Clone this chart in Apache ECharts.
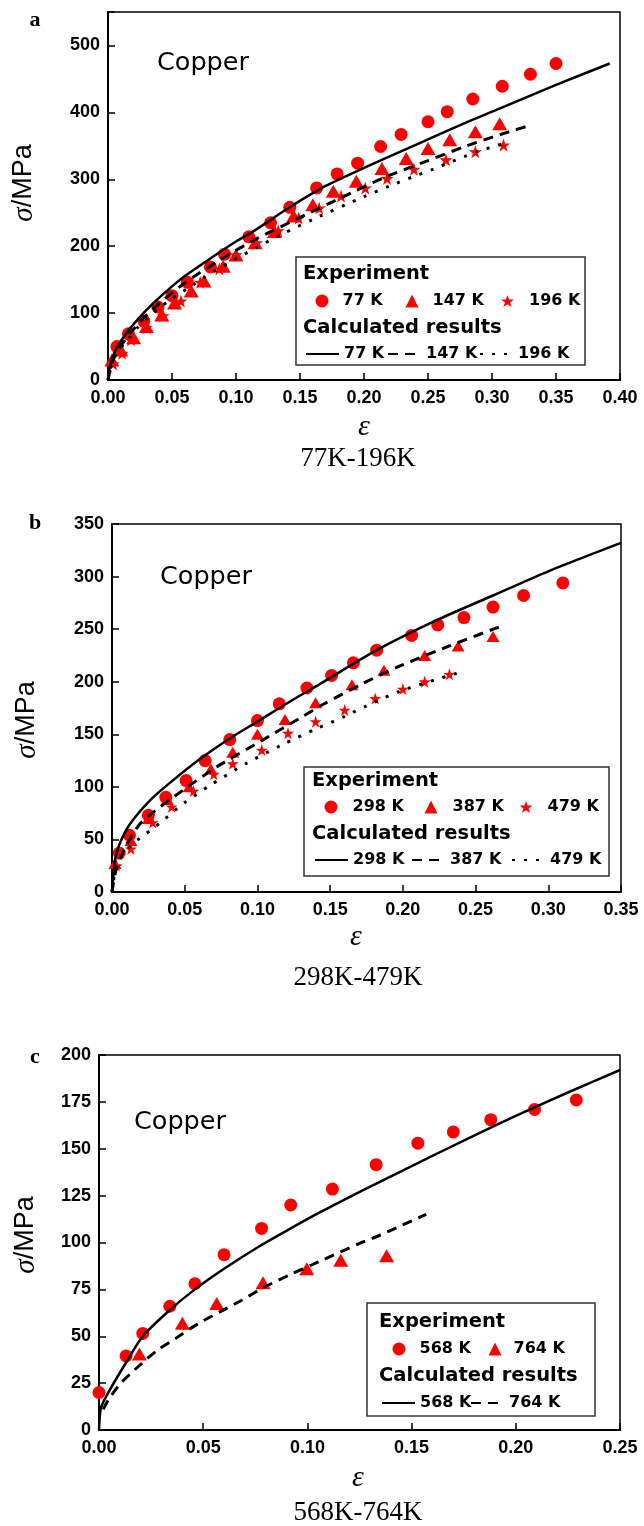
<!DOCTYPE html>
<html><head><meta charset="utf-8">
<script src="https://cdn.jsdelivr.net/npm/echarts@6/dist/echarts.min.js"></script>
<style>html,body{margin:0;padding:0;background:#fff}#c{width:644px;height:1526px}</style>
</head><body><div id="c"></div><script>
// ---------- Panel a (77K-196K) ----------
const a_exp77 = [[0.007,50],[0.016,69],[0.028,88],[0.039,109],[0.05,126],[0.062,146],[0.08,169],[0.091,188],[0.11,214],[0.127,235],[0.142,258],[0.163,287],[0.179,308],[0.195,324],[0.213,349],[0.229,367],[0.25,386],[0.265,401],[0.285,420],[0.308,439],[0.33,457],[0.35,473]];
const a_exp147 = [[0.003,30],[0.01,45],[0.02,63],[0.03,80],[0.042,97],[0.052,115],[0.065,133],[0.075,148],[0.09,170],[0.1,187],[0.115,205],[0.13,222],[0.145,245],[0.16,262],[0.176,282],[0.194,297],[0.214,316],[0.233,331],[0.25,346],[0.267,359],[0.287,371],[0.306,383]];
const a_exp196 = [[0.004,24],[0.011,40],[0.018,60],[0.03,78],[0.043,96],[0.057,118],[0.072,146],[0.087,166],[0.1,187],[0.116,205],[0.133,223],[0.149,242],[0.165,257],[0.182,275],[0.201,287],[0.218,301],[0.239,315],[0.264,329],[0.287,341],[0.309,351]];
const a_calc77 = [[0,0],[0.002,25],[0.006,45],[0.014,69],[0.024,92],[0.035,114],[0.05,140],[0.062,158],[0.088,192],[0.1,207],[0.115,224],[0.141,257],[0.17,290],[0.2,317],[0.24,351],[0.28,385],[0.31,409],[0.35,441],[0.392,473]];
const a_calc147 = [[0,0],[0.004,30],[0.0085,47],[0.02,76],[0.035,106],[0.06,145],[0.088,180],[0.115,210],[0.15,243],[0.184,274],[0.215,302],[0.25,328],[0.279,349],[0.31,369],[0.329,380]];
const a_calc196 = [[0,0],[0.003,25],[0.0085,45],[0.016,62],[0.023,78],[0.031,93],[0.039,106],[0.048,119],[0.0655,141],[0.075,153],[0.096,177],[0.117,199],[0.136,218],[0.16,240],[0.2,274],[0.22,290],[0.24,305],[0.254,315],[0.288,341],[0.309,353]];
// ---------- Panel b (298K-479K) ----------
const b_exp298 = [[0.005,37],[0.012,54],[0.025,73],[0.037,90],[0.051,106],[0.064,125],[0.081,145],[0.1,163],[0.115,179],[0.134,194],[0.151,206],[0.166,218],[0.182,230],[0.206,244],[0.224,254],[0.242,261],[0.262,271],[0.283,282],[0.31,294]];
const b_exp387 = [[0.002,27],[0.013,49],[0.025,70],[0.038,88],[0.053,100],[0.068,117],[0.083,133],[0.1,150],[0.119,164],[0.14,180],[0.165,197],[0.187,211],[0.215,225],[0.238,234],[0.262,243]];
const b_exp479 = [[0.003,25],[0.013,41],[0.028,66],[0.041,81],[0.056,96],[0.07,112],[0.083,122],[0.103,135],[0.121,151],[0.14,162],[0.16,173],[0.181,184],[0.2,193],[0.215,200],[0.232,207]];
const b_calc298 = [[0,0],[0.002,30],[0.005,45],[0.012,64],[0.026,87],[0.04,104],[0.06,126],[0.082,147],[0.1,162],[0.121,180],[0.142,197],[0.182,230],[0.224,259],[0.262,282],[0.3,305],[0.35,332]];
const b_calc387 = [[0,0],[0.003,22],[0.01,45],[0.02,66],[0.042,90],[0.072,119],[0.103,144],[0.13,166],[0.146,179],[0.172,198],[0.198,215],[0.232,234],[0.266,252]];
const b_calc479 = [[0,0],[0.002,18],[0.007,36],[0.019,51],[0.027,59],[0.035,68],[0.049,84],[0.067,101],[0.092,122],[0.117,140],[0.14,155],[0.16,167],[0.175,177],[0.198,191],[0.237,208]];
// ---------- Panel c (568K-764K) ----------
const c_exp568 = [[0,20],[0.013,39.5],[0.021,51.5],[0.034,66],[0.046,78],[0.06,93.5],[0.078,107.5],[0.092,120],[0.112,128.5],[0.133,141.5],[0.153,153],[0.17,159],[0.188,165.5],[0.209,171],[0.229,176]];
const c_exp764 = [[0.0194,40.5],[0.04,57],[0.0565,67.5],[0.0787,78.5],[0.0997,86],[0.116,90.5],[0.138,93]];
const c_calc568 = [[0,0],[0.001,12],[0.005,21],[0.013,36],[0.021,50],[0.034,64],[0.046,75],[0.06,86],[0.077,98],[0.092,107.5],[0.105,115.5],[0.119,123.5],[0.135,132.5],[0.151,141.3],[0.167,150],[0.183,158.6],[0.2,167.5],[0.225,180],[0.25,192]];
const c_calc764 = [[0.002,11],[0.005,17],[0.0105,25],[0.019,34],[0.028,42.5],[0.037,49],[0.048,57],[0.058,63],[0.069,69.5],[0.079,76],[0.092,83],[0.102,88],[0.108,91],[0.124,99],[0.135,104],[0.145,109],[0.157,115]];
// ---------- tick labels / texts ----------
const yTicksA = [0,100,200,300,400,500];
const yTicksB = [0,50,100,150,200,250,300,350];
const yTicksC = [0,25,50,75,100,125,150,175,200];
const captions = ['77K-196K','298K-479K','568K-764K'];
const panelLetters = ['a','b','c'];

const RED = '#ff0000';
const STAR = 'path://M50,0 L61.8,35.1 L98.9,35.1 L69,56.9 L80.3,91.9 L50,70.2 L19.7,91.9 L31,56.9 L1.1,35.1 L38.2,35.1 Z';
const labelOf = {};

const grids = [
  {left:108, top:12, width:512, height:368},
  {left:112, top:524, width:509, height:368},
  {left:99, top:1055, width:521, height:375}
].map(g => Object.assign({show:true, borderColor:'#000', borderWidth:1.5, backgroundColor:'transparent'}, g));

function xAx(gi, max){
  return {gridIndex:gi, type:'value', min:0, max:max, interval:0.05,
    axisLine:{show:true, onZero:false, lineStyle:{color:'#000', width:2}},
    axisTick:{show:true, inside:true, length:7, lineStyle:{color:'#000', width:1.5}},
    splitLine:{show:false},
    axisLabel:{color:'#000', fontFamily:'Liberation Sans', fontWeight:'bold', fontSize:18, margin:9, formatter:v=>v.toFixed(2)}};
}
function yAx(gi, max, interval, ticks){
  return {gridIndex:gi, type:'value', min:0, max:max, interval:interval,
    axisLine:{show:true, onZero:false, lineStyle:{color:'#000', width:2}},
    axisTick:{show:true, inside:true, length:7, lineStyle:{color:'#000', width:1.5}},
    splitLine:{show:false},
    axisLabel:{color:'#000', fontFamily:'Liberation Sans', fontWeight:'bold', fontSize:18, margin:8,
      formatter:v=> ticks.indexOf(Math.round(v))>=0 && Math.abs(v-Math.round(v))<1e-6 ? String(Math.round(v)) : ''}};
}

const series = [];
function sc(name, label, gi, data, symbol, size){
  labelOf[name] = label;
  series.push({name, type:'scatter', xAxisIndex:gi, yAxisIndex:gi, data, symbol, symbolSize:size,
    itemStyle:{color:RED, opacity:1}, z:2, silent:true});
}
function ln(name, label, gi, data, type, width){
  labelOf[name] = label;
  series.push({name, type:'line', xAxisIndex:gi, yAxisIndex:gi, data, symbol:'none', showSymbol:false, smooth:0.25,
    lineStyle:{color:'#000', width:width, type:type, cap:'butt'}, itemStyle:{color:'#000'}, z:3, silent:true});
}
const DASH = [10,7], DOT = [3,9];
sc('ea77','77 K',0,a_exp77,'circle',13);
sc('ea147','147 K',0,a_exp147,'triangle',[15,13]);
sc('ea196','196 K',0,a_exp196,STAR,13);
ln('ca77','77 K',0,a_calc77,'solid',2.5);
ln('ca147','147 K',0,a_calc147,DASH,3);
ln('ca196','196 K',0,a_calc196,DOT,3);
sc('eb298','298 K',1,b_exp298,'circle',13);
sc('eb387','387 K',1,b_exp387,'triangle',[13,11]);
sc('eb479','479 K',1,b_exp479,STAR,12);
ln('cb298','298 K',1,b_calc298,'solid',2.5);
ln('cb387','387 K',1,b_calc387,DASH,3);
ln('cb479','479 K',1,b_calc479,DOT,3);
sc('ec568','568 K',2,c_exp568,'circle',13);
sc('ec764','764 K',2,c_exp764,'triangle',[15,13]);
ln('cc568','568 K',2,c_calc568,'solid',2.5);
ln('cc764','764 K',2,c_calc764,DASH,3);

const LTXT = {color:'#000', fontFamily:'DejaVu Sans', fontWeight:'bold', fontSize:16};
function lgMark(name, cx, cy, pad){
  return {data:[name], left:cx-6.5, top:cy-8, itemWidth:13, itemHeight:13, padding:0,
    selectedMode:false, formatter:n=>labelOf[n],
    textStyle:Object.assign({padding:[0,0,0,pad]}, LTXT), itemStyle:{opacity:1}};
}
function lgLine(name, lx, cy){
  return {data:[name], left:lx, top:cy-8, itemWidth:33, itemHeight:14, padding:0,
    selectedMode:false, formatter:n=>labelOf[n],
    textStyle:LTXT, itemStyle:{opacity:0}};
}
const legends = [
  lgMark('ea77',322,301,9), lgMark('ea147',412,301,9), lgMark('ea196',507.5,301,10),
  lgLine('ca77',305,354), lgLine('ca147',387,354), lgLine('ca196',479,354),
  lgMark('eb298',331,807,10), lgMark('eb387',431,807,10), lgMark('eb479',526,807,10),
  lgLine('cb298',314,860), lgLine('cb387',411,860), lgLine('cb479',511,860),
  lgMark('ec568',399,1349,9), lgMark('ec764',495,1349,7),
  lgLine('cc568',381,1403), lgLine('cc764',470,1403)
];

const HEAD = 'bold 19.5px "DejaVu Sans"';
function txt(x, y, text, font, align, extra){
  return Object.assign({type:'text', x, y, silent:true, z:10,
    style:{text, font, fill:'#000', align:align||'left', verticalAlign:'middle'}}, extra||{});
}
function yname(x, y){
  return {type:'text', x, y, rotation:Math.PI/2, silent:true, z:10,
    style:{text:'{s|σ}/MPa', font:'27px "Liberation Sans"', fill:'#000', align:'center', verticalAlign:'middle',
      rich:{s:{fontFamily:'Liberation Serif', fontStyle:'italic', fontSize:29, fill:'#000'}}}};
}
function box(x, y, w, h){
  return {type:'rect', shape:{x, y, width:w, height:h}, silent:true, z:1,
    style:{fill:'#fff', stroke:'#333', lineWidth:1.5}};
}
const graphic = [
  box(296, 257, 289, 108), box(304, 767, 305, 109), box(367, 1303, 228, 113),
  txt(303, 274, 'Experiment', HEAD), txt(303, 328, 'Calculated results', HEAD),
  txt(312, 781, 'Experiment', HEAD), txt(312, 834, 'Calculated results', HEAD),
  txt(379, 1322, 'Experiment', HEAD), txt(379, 1376, 'Calculated results', HEAD),
  txt(157, 63, 'Copper', '25.5px "DejaVu Sans"'),
  txt(160, 577, 'Copper', '25.5px "DejaVu Sans"'),
  txt(134, 1122, 'Copper', '25.5px "DejaVu Sans"'),
  txt(35, 20, panelLetters[0], 'bold 22px "Liberation Serif"', 'center'),
  txt(35, 523, panelLetters[1], 'bold 22px "Liberation Serif"', 'center'),
  txt(35, 1057, panelLetters[2], 'bold 22px "Liberation Serif"', 'center'),
  txt(364, 427, 'ε', 'italic 30px "Liberation Serif"', 'center'),
  txt(356, 937, 'ε', 'italic 30px "Liberation Serif"', 'center'),
  txt(358, 1478, 'ε', 'italic 30px "Liberation Serif"', 'center'),
  txt(358, 459, captions[0], '27px "Liberation Serif"', 'center'),
  txt(358, 978, captions[1], '27px "Liberation Serif"', 'center'),
  txt(358, 1513, captions[2], '27px "Liberation Serif"', 'center'),
  yname(24, 183), yname(27, 720), yname(26, 1235)
];

const chart = echarts.init(document.getElementById('c'), null, {renderer:'canvas'});
chart.setOption({
  animation:false,
  backgroundColor:'#fff',
  grid:grids,
  xAxis:[xAx(0,0.4), xAx(1,0.35), xAx(2,0.25)],
  yAxis:[yAx(0,550,100,yTicksA), yAx(1,350,50,yTicksB), yAx(2,200,25,yTicksC)],
  legend:legends,
  graphic:graphic,
  series:series
});
</script></body></html>
